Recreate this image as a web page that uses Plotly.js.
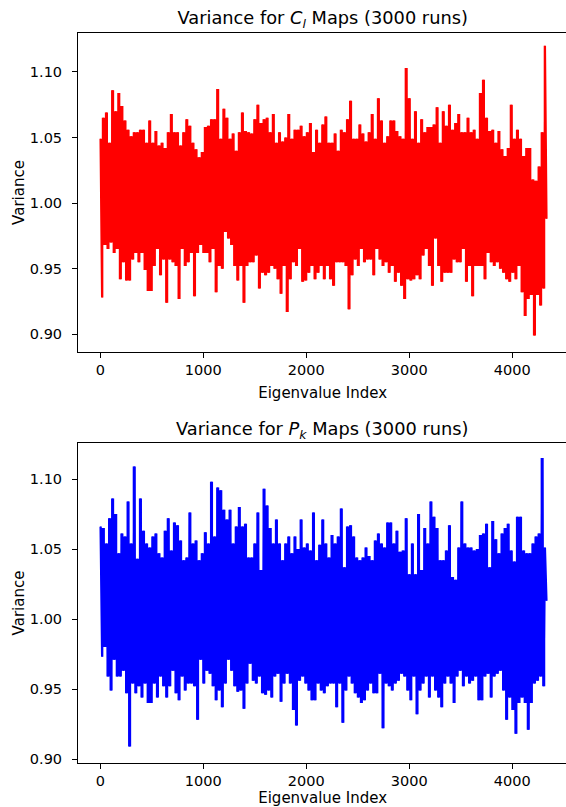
<!DOCTYPE html>
<html>
<head>
<meta charset="utf-8">
<script src="https://cdn.plot.ly/plotly-3.0.1.min.js"></script>
<style>
html,body{margin:0;padding:0;background:#fff;overflow:hidden;}
#chart{width:570px;height:807px;}
</style>
</head>
<body>
<div id="chart"></div>
<script>
// Eigenvalue index spacing between successive read samples (peak at i*step, trough at i*step+step/2)
const sampleStep = 30;

// C_l maps: local upper (peak) and lower (trough) values read along the eigenvalue index
const clPeaks = [
1.049,1.065,1.069,1.046,1.086,1.070,1.084,1.074,1.063,1.056,
1.051,1.054,1.054,1.056,1.056,1.046,1.063,1.046,1.055,1.044,
1.046,1.042,1.054,1.068,1.054,1.054,1.044,1.054,1.064,1.059,
1.046,1.041,1.035,1.039,1.058,1.059,1.064,1.064,1.087,1.049,
1.072,1.065,1.049,1.053,1.040,1.054,1.069,1.055,1.054,
1.053,1.064,1.075,1.061,1.064,1.065,1.054,1.068,1.046,1.054,
1.047,1.050,1.068,1.049,1.056,1.056,1.059,1.051,1.054,1.061,
1.039,1.056,1.046,1.060,1.066,1.046,1.046,1.053,1.040,1.056,
1.054,1.064,1.078,1.049,1.049,1.060,1.053,1.047,1.054,1.068,
1.049,1.080,1.063,1.046,1.051,1.063,1.063,1.055,1.051,1.049,
1.103,1.080,1.049,1.070,1.046,1.064,1.054,1.058,1.058,1.060,
1.073,1.046,1.070,1.059,1.075,1.056,1.061,1.068,1.054,1.054,
1.065,1.054,1.056,1.049,1.084,1.094,1.065,1.055,1.056,1.046,
1.055,1.041,1.036,1.042,1.075,1.049,1.056,1.049,1.036,1.042,
1.042,1.018,1.017,1.028,1.054,1.120
];
const clTroughs = [
0.928,0.968,0.965,0.970,0.962,0.965,0.942,0.955,0.941,0.941,
0.957,0.962,0.955,0.962,0.949,0.933,0.933,0.952,0.965,0.945,
0.957,0.924,0.957,0.955,0.952,0.927,0.965,0.952,0.955,0.962,
0.929,0.962,0.968,0.962,0.962,0.955,0.965,0.932,0.952,0.950,
0.978,0.973,0.968,0.952,0.941,0.952,0.924,0.952,0.955,
0.955,0.960,0.935,0.947,0.945,0.947,0.952,0.950,0.942,0.931,
0.952,0.917,0.942,0.955,0.952,0.965,0.940,0.941,0.947,0.952,
0.942,0.947,0.952,0.942,0.952,0.942,0.937,0.955,0.955,0.955,
0.952,0.919,0.945,0.957,0.952,0.965,0.955,0.957,0.957,0.945,
0.965,0.957,0.952,0.955,0.947,0.952,0.940,0.947,0.937,0.927,
0.942,0.941,0.942,0.945,0.942,0.960,0.965,0.952,0.937,0.973,
0.952,0.940,0.947,0.947,0.947,0.957,0.955,0.955,0.965,0.940,
0.952,0.929,0.952,0.952,0.952,0.942,0.962,0.955,0.952,0.955,
0.950,0.947,0.942,0.940,0.947,0.942,0.952,0.932,0.914,0.927,
0.930,0.899,0.930,0.922,0.935,0.988
];

// P_k maps
const pkPeaks = [
1.066,1.065,1.054,1.072,1.086,1.075,1.047,1.061,1.059,1.084,
1.054,1.109,1.043,1.086,1.063,1.054,1.051,1.059,1.061,1.047,
1.044,1.063,1.072,1.049,1.069,1.067,1.056,1.042,1.044,1.076,
1.054,1.056,1.042,1.047,1.062,1.054,1.098,1.059,1.094,1.092,
1.078,1.071,1.078,1.054,1.066,1.080,1.066,1.068,1.044,
1.044,1.054,1.076,1.035,1.093,1.081,1.065,1.054,1.071,1.054,
1.042,1.054,1.059,1.047,1.059,1.050,1.071,1.051,1.054,1.049,
1.076,1.042,1.053,1.071,1.054,1.044,1.060,1.054,1.059,1.079,
1.037,1.066,1.067,1.059,1.044,1.042,1.044,1.051,1.045,1.042,
1.056,1.061,1.054,1.051,1.069,1.069,1.054,1.063,1.048,1.049,
1.072,1.032,1.054,1.032,1.075,1.035,1.065,1.054,1.084,1.073,
1.065,1.042,1.042,1.049,1.067,1.030,1.028,1.051,1.084,1.054,
1.051,1.051,1.049,1.050,1.060,1.061,1.068,1.037,1.070,1.057,
1.047,1.061,1.065,1.068,1.049,1.041,1.073,1.073,1.049,1.047,
1.047,1.054,1.059,1.061,1.115,1.051
];
const pkTroughs = [
0.973,0.980,0.959,0.949,0.971,0.959,0.959,0.963,0.947,0.909,
0.954,0.947,0.952,0.944,0.954,0.940,0.940,0.954,0.944,0.959,
0.952,0.944,0.952,0.963,0.947,0.942,0.959,0.949,0.954,0.954,
0.952,0.928,0.971,0.954,0.963,0.961,0.952,0.942,0.949,0.937,
0.954,0.971,0.963,0.952,0.948,0.949,0.936,0.954,0.968,
0.956,0.954,0.959,0.947,0.946,0.949,0.944,0.959,0.961,0.941,
0.954,0.961,0.954,0.935,0.924,0.956,0.959,0.954,0.949,0.942,
0.942,0.954,0.949,0.947,0.952,0.954,0.954,0.937,0.954,0.926,
0.949,0.959,0.954,0.947,0.944,0.940,0.942,0.949,0.954,0.947,
0.947,0.961,0.922,0.954,0.952,0.949,0.954,0.956,0.961,0.959,
0.949,0.942,0.959,0.932,0.949,0.954,0.959,0.944,0.959,0.949,
0.944,0.937,0.954,0.959,0.954,0.940,0.959,0.963,0.952,0.959,
0.954,0.956,0.959,0.942,0.942,0.959,0.961,0.944,0.959,0.961,
0.963,0.949,0.928,0.944,0.935,0.918,0.940,0.944,0.940,0.921,
0.940,0.954,0.956,0.959,0.952,1.013
];

const xTicks = [0, 1000, 2000, 3000, 4000];
const yTicks = [0.90, 0.95, 1.00, 1.05, 1.10];
const titleTop = 'Variance for <i>C</i><sub><i>l</i></sub> Maps (3000 runs)';
const titleBottom = 'Variance for <i>P</i><sub><i>k</i></sub> Maps (3000 runs)';
const xLabel = 'Eigenvalue Index';
const yLabel = 'Variance';

function interleave(peaks, troughs) {
  const x = [], y = [];
  const n = Math.max(peaks.length, troughs.length);
  for (let i = 0; i < n; i++) {
    if (i < peaks.length) { x.push(i * sampleStep); y.push(peaks[i]); }
    if (i < troughs.length) { x.push(i * sampleStep + sampleStep / 2); y.push(troughs[i]); }
  }
  return {x, y};
}
function positions(arr, offset) { return arr.map((_, i) => i * sampleStep + offset); }

const cl = interleave(clPeaks, clTroughs);
const pk = interleave(pkPeaks, pkTroughs);

const W = 570, H = 807;
const FONT = 'DejaVu Sans, Liberation Sans, sans-serif';
const RED = '#ff0000', BLUE = '#0000ff';

function seriesTraces(peaks, troughs, zig, color, xa, ya) {
  return [
    // solid core of the dense trace: band between local peaks and local troughs (stepped, like dense vertical strokes)
    {x: positions(peaks, 0), y: peaks, type: 'scatter', mode: 'lines', line: {width: 0, color: color, shape: 'hvh'},
     xaxis: xa, yaxis: ya, hoverinfo: 'skip', showlegend: false},
    {x: positions(troughs, sampleStep / 2), y: troughs, type: 'scatter', mode: 'lines', line: {width: 0, color: color, shape: 'hvh'},
     fill: 'tonexty', fillcolor: color, xaxis: xa, yaxis: ya, hoverinfo: 'skip', showlegend: false},
    // the variance line itself
    {x: zig.x, y: zig.y, type: 'scatter', mode: 'lines', line: {color: color, width: 1.6},
     xaxis: xa, yaxis: ya, hoverinfo: 'skip', showlegend: false}
  ];
}

const traces = [].concat(
  seriesTraces(clPeaks, clTroughs, cl, RED, 'x', 'y'),
  seriesTraces(pkPeaks, pkTroughs, pk, BLUE, 'x2', 'y2')
);

function xaxisDef(anchor) {
  return {
    anchor: anchor, domain: [78 / W, 567.4 / W], range: [-216, 4535],
    tickvals: xTicks, tickformat: 'd',
    ticks: 'outside', ticklen: 5, tickwidth: 1, tickcolor: '#000',
    showline: true, linecolor: '#000', linewidth: 1, mirror: true,
    showgrid: false, zeroline: false,
    tickfont: {family: FONT, size: 14.5, color: '#000'},
    title: {text: xLabel, font: {family: FONT, size: 15, color: '#000'}, standoff: 10},
    automargin: false, fixedrange: true
  };
}
function yaxisDef(anchor, dom, rng) {
  return {
    anchor: anchor, domain: dom, range: rng,
    tickvals: yTicks, tickformat: '.2f',
    ticks: 'outside', ticklen: 5, tickwidth: 1, tickcolor: '#000',
    ticklabelstandoff: 7,
    showline: true, linecolor: '#000', linewidth: 1, mirror: true,
    showgrid: false, zeroline: false,
    tickfont: {family: FONT, size: 14.5, color: '#000'},
    title: {text: yLabel, font: {family: FONT, size: 15, color: '#000'}, standoff: 1},
    automargin: false, fixedrange: true
  };
}

const layout = {
  width: W, height: H,
  margin: {l: 0, r: 0, t: 0, b: 0},
  paper_bgcolor: '#ffffff', plot_bgcolor: '#ffffff',
  showlegend: false,
  font: {family: FONT, color: '#000'},
  title: {text: titleTop, font: {family: FONT, size: 17.8, color: '#000'},
          x: 322.7 / W, xanchor: 'center', xref: 'paper', y: 1 - 18 / H, yanchor: 'middle'},
  xaxis: xaxisDef('y'),
  yaxis: yaxisDef('x', [1 - 352 / H, 1 - 33 / H], [0.8865, 1.1297]),
  xaxis2: xaxisDef('y2'),
  yaxis2: yaxisDef('x2', [1 - 762.7 / H, 1 - 443.3 / H], [0.8974, 1.1255]),
  annotations: [
    {text: titleBottom, xref: 'paper', yref: 'paper', x: 322.7 / W, y: 1 - 430 / H,
     xanchor: 'center', yanchor: 'middle', showarrow: false,
     font: {family: FONT, size: 17.8, color: '#000'}}
  ]
};

Plotly.newPlot('chart', traces, layout, {staticPlot: true, displayModeBar: false});
</script>
</body>
</html>
